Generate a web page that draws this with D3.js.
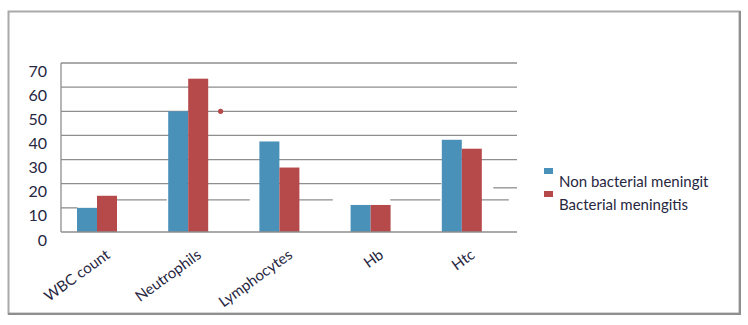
<!DOCTYPE html>
<html>
<head>
<meta charset="utf-8">
<script src="https://cdn.jsdelivr.net/npm/d3@7"></script>
<style>
  html, body { margin: 0; padding: 0; background: #fff; }
  svg { display: block; }
  text { font-family: Lato, "Open Sans", sans-serif; fill: #27273f; }
</style>
</head>
<body>
<svg id="chart" width="748" height="325"></svg>
<script>
// Blood parameters by meningitis type
const categories = ["WBC count", "Neutrophils", "Lymphocytes", "Hb", "Htc"];
const seriesNames = ["Non bacterial meningit", "Bacterial meningitis"];
const nonBacterial = [10, 50, 37.5, 11.2, 38.2];
const bacterial = [15, 63.5, 26.7, 11.2, 34.5];
const yTicks = [0, 10, 20, 30, 40, 50, 60, 70];

// full-width gridlines
const gridFull = [30, 40, 50, 60, 70];
// broken gridline pieces: value, start and end in category units
const gridPieces = [
  { value: 20, from: 0, to: 4.17 },
  { value: 18.3, from: 4.74, to: 5 },
  { value: 10, from: 0, to: 0.18 },
  { value: 13.3, from: 0.61, to: 1.16 },
  { value: 13.3, from: 1.61, to: 2.07 },
  { value: 13.3, from: 2.43, to: 2.98 },
  { value: 13.3, from: 3.61, to: 4.16 },
  { value: 13.3, from: 4.52, to: 4.91 }
];
// stray marker between the groups
const strayPoints = [{ pos: 1.75, value: 50 }];

const colors = ["#4a91b9", "#b6494a"];
const gridColor = "#8e8e8e";

const svg = d3.select("#chart");
const plotLeft = 61, plotRight = 517, plotTop = 63, plotBottom = 232;

// outer frame
svg.append("rect")
  .attr("x", 8.5).attr("y", 11.5)
  .attr("width", 731).attr("height", 302)
  .attr("fill", "none").attr("stroke", "#a9a9a9").attr("stroke-width", 2);
svg.append("path")
  .attr("d", "M740,11 V314 H8")
  .attr("fill", "none").attr("stroke", "#8f8f8f").attr("stroke-width", 2);

const y = d3.scaleLinear().domain([0, 70]).range([plotBottom, plotTop]);
const x = d3.scaleBand().domain(categories).range([plotLeft, plotRight]).padding(0);
const xPos = d3.scaleLinear().domain([0, categories.length]).range([plotLeft, plotRight]);
const xSeries = d3.scaleBand().domain(seriesNames).range([16, 56]).padding(0);

// gridlines
const grid = svg.append("g").attr("stroke", gridColor).attr("stroke-width", 1.3);
grid.selectAll("line.full").data(gridFull).join("line")
  .attr("class", "full")
  .attr("x1", plotLeft).attr("x2", plotRight)
  .attr("y1", d => y(d)).attr("y2", d => y(d));
grid.selectAll("line.piece").data(gridPieces).join("line")
  .attr("class", "piece")
  .attr("x1", d => xPos(d.from)).attr("x2", d => xPos(d.to))
  .attr("y1", d => y(d.value)).attr("y2", d => y(d.value));

// bars
const rows = categories.map((c, i) => ({ cat: c, values: [nonBacterial[i], bacterial[i]] }));
const groups = svg.append("g").selectAll("g").data(rows).join("g")
  .attr("transform", d => `translate(${x(d.cat)},0)`);
groups.selectAll("rect").data(d => d.values.map((v, k) => ({ name: seriesNames[k], v, k })))
  .join("rect")
  .attr("x", d => xSeries(d.name))
  .attr("width", xSeries.bandwidth())
  .attr("y", d => y(d.v))
  .attr("height", d => y(0) - y(d.v))
  .attr("fill", d => colors[d.k]);

// axis lines
svg.append("line")
  .attr("x1", plotLeft).attr("x2", plotRight).attr("y1", y(0)).attr("y2", y(0))
  .attr("stroke", gridColor).attr("stroke-width", 1.6);
svg.append("line")
  .attr("x1", plotLeft).attr("x2", plotLeft).attr("y1", plotTop).attr("y2", y(0))
  .attr("stroke", gridColor).attr("stroke-width", 1.3);

// stray point
svg.append("g").selectAll("circle").data(strayPoints).join("circle")
  .attr("cx", d => xPos(d.pos)).attr("cy", d => y(d.value))
  .attr("r", 2.6).attr("fill", colors[1]);

// y axis labels
const yAxis = svg.append("g")
  .attr("transform", `translate(${plotLeft},0)`)
  .call(d3.axisLeft(y).tickValues(yTicks).tickSize(0).tickPadding(14).tickFormat(d3.format("d")));
yAxis.select(".domain").remove();
yAxis.selectAll("text")
  .attr("dy", "0.32em")
  .attr("transform", "translate(0,8)")
  .style("font-size", "16px")
  .style("font-family", "Lato, sans-serif")
  .attr("fill", "#27273f");

// category labels
svg.append("g").selectAll("text").data(categories).join("text")
  .attr("transform", d => `translate(${x(d) + 50},${plotBottom + 25}) rotate(-36)`)
  .attr("text-anchor", "end")
  .style("font-size", "15px")
  .text(d => d);

// legend
const legend = svg.append("g").attr("transform", "translate(544,168)");
const items = legend.selectAll("g").data(seriesNames).join("g")
  .attr("transform", (d, i) => `translate(0,${i * 23})`);
items.append("rect").attr("width", 9).attr("height", 6).attr("fill", (d, i) => colors[i]);
items.append("text").attr("x", 15).attr("y", 19).style("font-size", "15px").text(d => d);
</script>
</body>
</html>
